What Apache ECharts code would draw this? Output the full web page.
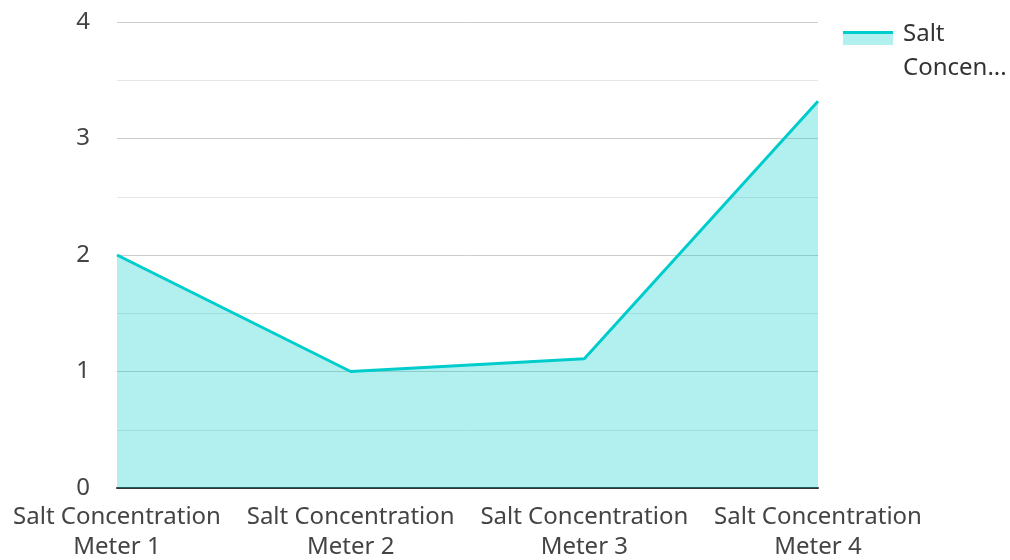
<!DOCTYPE html>
<html>
<head>
<meta charset="utf-8">
<script src="https://cdn.jsdelivr.net/npm/echarts@6/dist/echarts.min.js"></script>
<style>html,body{margin:0;padding:0;background:#fff}#c{width:1010px;height:560px}</style>
</head>
<body>
<div id="c"></div>
<script>
const categories = ['Salt Concentration\nMeter 1', 'Salt Concentration\nMeter 2', 'Salt Concentration\nMeter 3', 'Salt Concentration\nMeter 4'];
const seriesName = 'Salt Concentration';
const values = [2.0, 1.0, 1.11, 3.32];
const yTicks = [0, 1, 2, 3, 4];

const chart = echarts.init(document.getElementById('c'), null, {renderer: 'canvas'});
const font = '"Noto Sans", "Open Sans", sans-serif';
chart.setOption({
  animation: false,
  grid: {left: 117, right: 192, top: 22, bottom: 72, containLabel: false, outerBoundsMode: 'none'},
  legend: {
    left: 843, top: -8, padding: 0, orient: 'vertical',
    itemWidth: 50, itemHeight: 14, itemGap: 10,
    icon: 'rect',
    itemStyle: {color: 'rgba(0,204,204,0.3)'},
    formatter: function (n) { return '{s| }\n{t|' + n.slice(0, 4) + '}\n{t|' + n.slice(5, 11) + '...}'; },
    textStyle: {
      fontFamily: font, fontSize: 24, color: '#333', padding: [0, 0, 0, 5],
      rich: {
        s: {fontFamily: font, fontSize: 24, lineHeight: 26, color: '#333'},
        t: {fontFamily: font, fontSize: 24, lineHeight: 34, color: '#333'}
      }
    },
    data: [seriesName]
  },
  graphic: [{
    type: 'rect', left: 843, top: 31, shape: {width: 50, height: 3}, style: {fill: '#00cccc'}, z: 100
  }],
  xAxis: {
    type: 'category', data: categories, boundaryGap: false,
    axisLine: {lineStyle: {color: '#333', width: 2}},
    axisTick: {show: false},
    axisLabel: {fontFamily: font, fontSize: 24, color: '#444', lineHeight: 30, margin: 14, interval: 0}
  },
  yAxis: {
    type: 'value', min: yTicks[0], max: yTicks[yTicks.length - 1], interval: 1,
    axisLine: {show: false}, axisTick: {show: false},
    axisLabel: {fontFamily: font, fontSize: 24, color: '#444', margin: 27},
    splitLine: {lineStyle: {color: '#cccccc', width: 1}},
    minorTick: {show: false, splitNumber: 2},
    minorSplitLine: {show: true, lineStyle: {color: '#e6e6e6', width: 1}}
  },
  series: [{
    name: seriesName, type: 'line', data: values,
    showSymbol: false, symbol: 'none',
    lineStyle: {color: '#00cccc', width: 3},
    itemStyle: {color: '#00cccc'},
    areaStyle: {color: 'rgba(0,204,204,0.3)', opacity: 1}
  }]
});
</script>
</body>
</html>
